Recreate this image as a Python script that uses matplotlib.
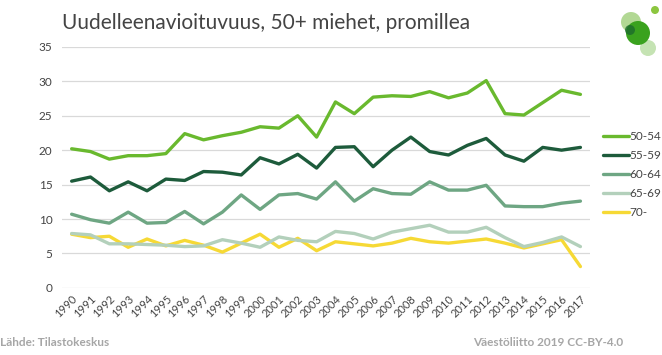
import numpy as np
import matplotlib.pyplot as plt
from matplotlib.patches import Ellipse

# data
years = list(range(1990, 2018))
labels = ["50-54", "55-59", "60-64", "65-69", "70-"]
colors = ["#69b92e", "#1d5b3b", "#6ea683", "#b3d0bb", "#f6d935"]

m50_54 = [20.2, 19.8, 18.7, 19.2, 19.2, 19.5, 22.4, 21.5, 22.1, 22.6, 23.4, 23.2, 25.0, 21.9,
          27.0, 25.3, 27.7, 27.9, 27.8, 28.5, 27.6, 28.3, 30.1, 25.3, 25.1, 26.9, 28.7, 28.1]
m55_59 = [15.5, 16.1, 14.1, 15.4, 14.1, 15.8, 15.6, 16.9, 16.8, 16.4, 18.9, 18.0, 19.4, 17.4,
          20.4, 20.5, 17.6, 20.0, 21.9, 19.8, 19.3, 20.7, 21.7, 19.3, 18.4, 20.4, 20.0, 20.4]
m60_64 = [10.7, 9.9, 9.4, 11.0, 9.4, 9.5, 11.1, 9.3, 11.0, 13.5, 11.4, 13.5, 13.7, 12.9,
          15.4, 12.6, 14.4, 13.7, 13.6, 15.4, 14.2, 14.2, 14.9, 11.9, 11.8, 11.8, 12.3, 12.6]
m65_69 = [7.9, 7.7, 6.4, 6.4, 6.3, 6.2, 6.0, 6.1, 7.0, 6.5, 5.9, 7.4, 6.9, 6.7,
          8.2, 7.9, 7.1, 8.1, 8.6, 9.1, 8.1, 8.1, 8.8, 7.3, 6.0, 6.6, 7.4, 6.0]
m70 = [7.8, 7.3, 7.5, 5.9, 7.1, 6.1, 6.9, 6.2, 5.2, 6.5, 7.8, 5.9, 7.2, 5.4,
       6.7, 6.4, 6.1, 6.5, 7.2, 6.7, 6.5, 6.8, 7.1, 6.5, 5.8, 6.4, 7.0, 3.1]
series = [m50_54, m55_59, m60_64, m65_69, m70]

plt.rcParams['font.family'] = ['Lato', 'DejaVu Sans']

fig = plt.figure(figsize=(6.62, 3.55), dpi=100)
ax = fig.add_axes([0.094, 0.189, 0.797, 0.679])

# draw back to front so the bright series sit on top
for vals, lab, col in reversed(list(zip(series, labels, colors))):
    ax.plot(years, vals, color=col, linewidth=2.4, label=lab, solid_capstyle='round')

ax.set_xlim(1989.5, 2017.5)
ax.set_ylim(0, 35)
ax.set_yticks(range(0, 36, 5))
ax.set_xticks(years)
ax.set_xticklabels([str(y) for y in years], rotation=45, ha='right',
                   rotation_mode='anchor', fontsize=8, color='#444444')
ax.tick_params(axis='y', labelsize=8.5, labelcolor='#444444', length=0, pad=7)
ax.tick_params(axis='x', length=0, pad=4)
ax.grid(axis='y', color='#d9d9d9', linewidth=0.9)
ax.set_axisbelow(True)
for s in ax.spines.values():
    s.set_visible(False)

h, l = ax.get_legend_handles_labels()
fig.legend(h[::-1], l[::-1], loc='upper left', bbox_to_anchor=(0.895, 0.66),
           frameon=False, fontsize=8.5, handlelength=2.2, handletextpad=0.0,
           labelspacing=0.68, labelcolor='#444444')

fig.text(0.402, 0.935, "Uudelleenavioituvuus, 50+ miehet, promillea", ha='center',
         va='center', fontsize=15, color='#444444')
fig.text(0.0, 0.035, "Lähde: Tilastokeskus", fontsize=8.5, fontweight='bold',
         color='#a6a6a6', va='center')
fig.text(0.941, 0.035, "Väestöliitto 2019 CC-BY-4.0", fontsize=8.5, fontweight='bold',
         color='#a6a6a6', va='center', ha='right')

# logo circles (pixel coords -> figure fraction)
W, H = 662, 355
for cx, cy, r, c, a in [(631, 22, 10, '#9fcf7a', 0.8), (648, 48, 8, '#b7dca0', 0.8),
                        (638, 33, 12, '#3aa21e', 1.0), (655, 10, 4, '#8cc63f', 1.0),
                        (630, 30, 5, '#1d6b2c', 0.8)]:
    fig.patches.append(Ellipse((cx / W, 1 - cy / H), 2 * r / W, 2 * r / H,
                               transform=fig.transFigure, facecolor=c, alpha=a,
                               edgecolor='none'))

fig.savefig("out.png", dpi=100)
